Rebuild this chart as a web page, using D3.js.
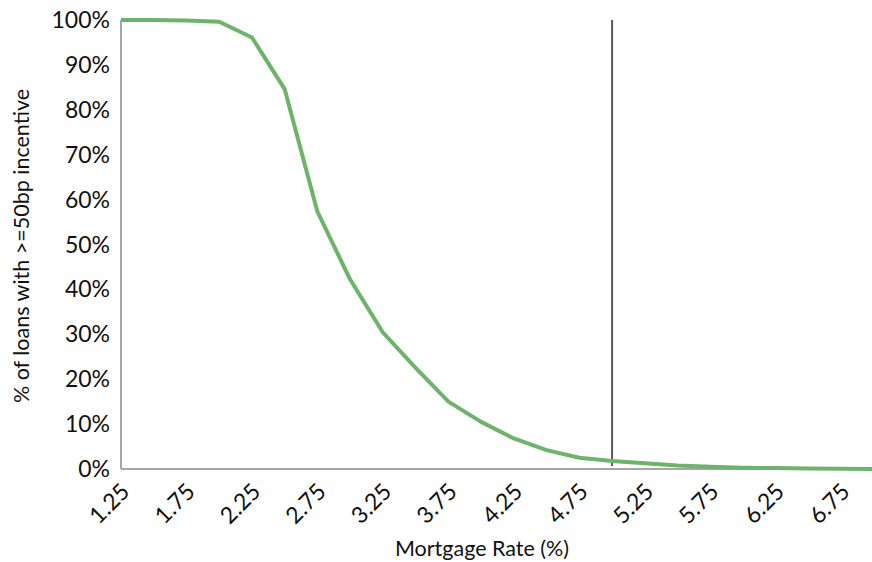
<!DOCTYPE html>
<html>
<head>
<meta charset="utf-8">
<script src="https://cdn.jsdelivr.net/npm/d3@7"></script>
<style>
  body { margin: 0; background: #fff; }
  text { font-family: Lato, "Open Sans", sans-serif; fill: #111; }
</style>
</head>
<body>
<script>
  // mortgage rate categories and share of loans with >=50bp incentive
  var rates = [1.25, 1.50, 1.75, 2.00, 2.25, 2.50, 2.75, 3.00, 3.25, 3.50, 3.75, 4.00,
               4.25, 4.50, 4.75, 5.00, 5.25, 5.50, 5.75, 6.00, 6.25, 6.50, 6.75, 7.00];
  var share = [100, 100, 99.9, 99.6, 96.1, 84.6, 57.3, 42.2, 30.4, 22.5, 15.0, 10.5,
               6.8, 4.2, 2.5, 1.8, 1.3, 0.8, 0.5, 0.3, 0.2, 0.1, 0.05, 0.02];
  var xTickLabels = [1.25, 1.75, 2.25, 2.75, 3.25, 3.75, 4.25, 4.75, 5.25, 5.75, 6.25, 6.75];
  var yTicks = [0, 10, 20, 30, 40, 50, 60, 70, 80, 90, 100];
  var currentRate = 5.00;

  var width = 872, height = 562;
  var margin = {top: 20, left: 121, bottom: 93};

  var svg = d3.select('body').append('svg')
    .attr('width', width)
    .attr('height', height);

  var x = d3.scaleLinear()
    .domain([1.25, 7.00])
    .range([margin.left, 874]);

  var y = d3.scaleLinear()
    .domain([0, 100])
    .range([height - margin.bottom, margin.top]);

  // axes lines
  svg.append('line')
    .attr('x1', x(1.25)).attr('x2', x(1.25))
    .attr('y1', y(100)).attr('y2', y(0))
    .attr('stroke', '#a6a6a6').attr('stroke-width', 2);

  svg.append('line')
    .attr('x1', x(1.25)).attr('x2', width)
    .attr('y1', y(0)).attr('y2', y(0))
    .attr('stroke', '#a6a6a6').attr('stroke-width', 2);

  // y tick labels
  svg.selectAll('.ylab').data(yTicks).enter().append('text')
    .attr('class', 'ylab')
    .attr('x', 110)
    .attr('y', function(d) { return y(d); })
    .attr('dy', '0.35em')
    .attr('text-anchor', 'end')
    .style('font-size', '23px')
    .text(function(d) { return d + '%'; });

  // x tick labels, rotated
  svg.selectAll('.xlab').data(xTickLabels).enter().append('text')
    .attr('class', 'xlab')
    .attr('text-anchor', 'end')
    .attr('transform', function(d) { return 'translate(' + (x(d) + 10) + ',' + 493 + ') rotate(-45)'; })
    .style('font-size', '23px')
    .text(function(d) { return d.toFixed(2); });

  // vertical marker at current rate
  svg.append('line')
    .attr('x1', x(currentRate)).attr('x2', x(currentRate))
    .attr('y1', y(100)).attr('y2', y(0) - 3)
    .attr('stroke', '#595959').attr('stroke-width', 2);

  var line = d3.line()
    .x(function(d, i) { return x(rates[i]); })
    .y(function(d) { return y(d); });

  svg.append('path')
    .datum(share)
    .attr('d', line)
    .attr('fill', 'none')
    .attr('stroke', '#6db46a')
    .attr('stroke-width', 4)
    .attr('stroke-linejoin', 'round');

  // axis titles
  svg.append('text')
    .attr('x', 482).attr('y', 556)
    .attr('text-anchor', 'middle')
    .style('font-size', '21.5px')
    .text('Mortgage Rate (%)');

  svg.append('text')
    .attr('transform', 'translate(29,' + 246 + ') rotate(-90)')
    .attr('text-anchor', 'middle')
    .style('font-size', '21.5px')
    .text('% of loans with >=50bp incentive');
</script>
</body>
</html>
